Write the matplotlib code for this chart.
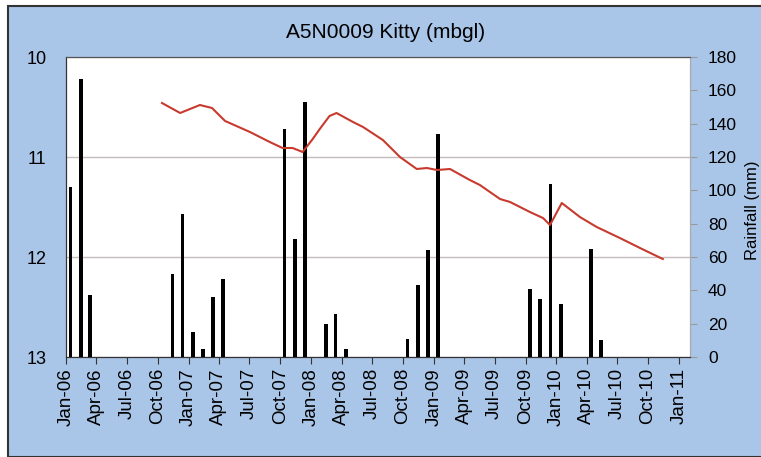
import numpy as np
import pandas as pd
import matplotlib
matplotlib.use("Agg")
import matplotlib.pyplot as plt
import matplotlib.dates as mdates
from matplotlib.patches import Rectangle
from matplotlib.ticker import MultipleLocator

plt.rcParams['font.family'] = ['Liberation Sans', 'DejaVu Sans']

# monthly rainfall (mm)
rain_months = ["2006-01", "2006-02", "2006-03",
               "2006-11", "2006-12", "2007-01", "2007-02", "2007-03", "2007-04",
               "2007-10", "2007-11", "2007-12", "2008-02", "2008-03", "2008-04",
               "2008-10", "2008-11", "2008-12", "2009-01",
               "2009-10", "2009-11", "2009-12", "2010-01", "2010-04", "2010-05"]
rain_mm = [102, 167, 37,
           50, 86, 15, 5, 36, 47,
           137, 71, 153, 20, 26, 5,
           11, 43, 64, 134,
           41, 35, 104, 32, 65, 10]

# water level, metres below ground level
level_dates = ["2006-10-14", "2006-12-07", "2007-02-04", "2007-03-12", "2007-04-20",
               "2007-07-03", "2007-08-31", "2007-10-08", "2007-11-07", "2007-12-07",
               "2008-01-06", "2008-01-27", "2008-02-25", "2008-03-17", "2008-05-05",
               "2008-06-04", "2008-08-02", "2008-09-22", "2008-11-11", "2008-12-11",
               "2009-01-10", "2009-02-18", "2009-04-18", "2009-05-18", "2009-07-17",
               "2009-08-16", "2009-10-14", "2009-11-22", "2009-12-13", "2010-01-17",
               "2010-03-12", "2010-05-01", "2010-07-09", "2010-09-07", "2010-11-14"]
level_m = [10.46, 10.56, 10.48, 10.51, 10.64,
           10.75, 10.85, 10.91, 10.91, 10.95,
           10.82, 10.72, 10.59, 10.56, 10.65,
           10.70, 10.83, 11.00, 11.12, 11.11,
           11.13, 11.12, 11.23, 11.28, 11.42,
           11.45, 11.55, 11.61, 11.68, 11.46,
           11.60, 11.70, 11.81, 11.91, 12.02]

bar_x = pd.to_datetime(rain_months) + pd.Timedelta(days=13)
line_x = pd.to_datetime(level_dates)

fig = plt.figure(figsize=(7.61, 4.57), dpi=100)
fig.patch.set_facecolor("white")
# blue chart-area box behind everything
box = Rectangle((8 / 761, 0), 1, 1 - 6 / 457, transform=fig.transFigure,
                facecolor="#a9c5e8", edgecolor="#333333", linewidth=1.5, zorder=-10)
fig.add_artist(box)

ax = fig.add_axes([66 / 761, 100 / 457, 624 / 761, 300 / 457])
ax.set_facecolor("white")
ax2 = ax.twinx()

ax.set_xlim(pd.Timestamp("2006-01-01"), pd.Timestamp("2011-02-03"))
ax.set_ylim(13, 10)
ax.set_yticks([10, 11, 12, 13])
ax.grid(axis="y", color="#c4bcbc", linewidth=1)
ax.tick_params(axis="y", length=0, pad=14, labelsize=13)

ax2.set_ylim(0, 180)
ax2.yaxis.set_major_locator(MultipleLocator(20))
ax2.tick_params(axis="y", length=5, color="#999999", pad=8, labelsize=12.5)

ax2.bar(bar_x, rain_mm, width=11, color="black", zorder=2)
ax2.plot(line_x, level_m, color="#c83a2e", linewidth=1.5, transform=ax.transData, zorder=3)

ax.xaxis.set_major_locator(mdates.MonthLocator(bymonth=[1, 4, 7, 10]))
ax.xaxis.set_major_formatter(mdates.DateFormatter("%b-%y"))
ax.tick_params(axis="x", length=5, color="#333333", labelsize=13.5, rotation=90, pad=3)

for a in (ax, ax2):
    a.spines["left"].set_color("#333333")
    a.spines["bottom"].set_color("#333333")
    a.spines["top"].set_color("#555555")
    a.spines["right"].set_color("#aaaaaa")

fig.text(386 / 761, 1 - 32 / 457, "A5N0009 Kitty (mbgl)", ha="center", va="center",
         fontsize=15)
fig.text(752 / 761, 1 - 210 / 457, "Rainfall (mm)", rotation=90, ha="center",
         va="center", fontsize=12)

fig.savefig("out.png", dpi=100)
